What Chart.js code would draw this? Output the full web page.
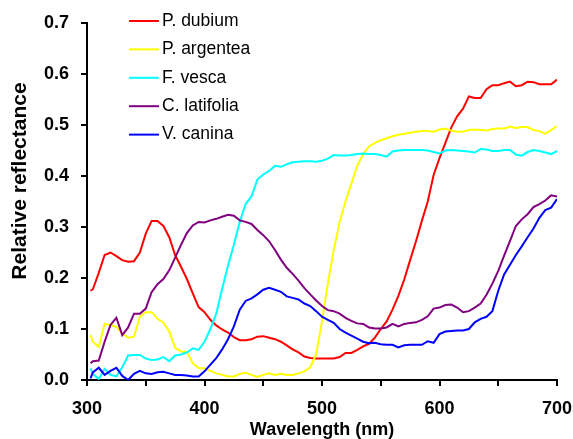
<!DOCTYPE html>
<html>
<head>
<meta charset="utf-8">
<script src="https://cdn.jsdelivr.net/npm/chart.js@4.4.1/dist/chart.umd.min.js"></script>
<style>
  html, body { margin: 0; padding: 0; background: #fff; }
  #wrap { width: 573px; height: 439px; }
</style>
</head>
<body>
<div id="wrap"><canvas id="reflChart" width="573" height="439"></canvas></div>
<script>
const wavelengths = [303, 305, 310, 315, 320, 325, 330, 335, 340, 345,
    350, 355, 360, 365, 370, 375, 380, 385, 390, 395,
    400, 405, 410, 415, 420, 425, 430, 435, 440, 445,
    450, 455, 460, 465, 470, 475, 480, 485, 490, 495,
    500, 505, 510, 515, 520, 525, 530, 535, 540, 545,
    550, 555, 560, 565, 570, 575, 580, 585, 590, 595,
    600, 605, 610, 615, 620, 625, 630, 635, 640, 645,
    650, 655, 660, 665, 670, 675, 680, 685, 690, 695,
    700];

const pDubium = [0.175, 0.178, 0.21, 0.245, 0.25, 0.243, 0.235, 0.232, 0.233, 0.25,
    0.287, 0.312, 0.312, 0.302, 0.28, 0.245, 0.222, 0.198, 0.17, 0.143,
    0.133, 0.118, 0.107, 0.099, 0.093, 0.084, 0.078, 0.078, 0.08, 0.085,
    0.086, 0.083, 0.08, 0.075, 0.068, 0.06, 0.054, 0.046, 0.043, 0.042,
    0.042, 0.042, 0.042, 0.045, 0.053, 0.053, 0.059, 0.066, 0.071, 0.083,
    0.1, 0.115, 0.138, 0.165, 0.197, 0.235, 0.272, 0.312, 0.35, 0.402,
    0.435, 0.465, 0.495, 0.517, 0.532, 0.556, 0.553, 0.553, 0.57, 0.578,
    0.578, 0.582, 0.585, 0.576, 0.578, 0.585, 0.584, 0.58, 0.58, 0.58,
    0.589];

const pArgentea = [0.088, 0.075, 0.065, 0.11, 0.108, 0.104, 0.091, 0.083, 0.085, 0.124,
    0.133, 0.133, 0.12, 0.113, 0.095, 0.063, 0.056, 0.055, 0.033, 0.023,
    0.023, 0.018, 0.013, 0.01, 0.007, 0.007, 0.012, 0.014, 0.01, 0.006,
    0.01, 0.013, 0.01, 0.012, 0.01, 0.01, 0.013, 0.017, 0.025, 0.05,
    0.115, 0.19, 0.255, 0.31, 0.35, 0.385, 0.42, 0.443, 0.458, 0.465,
    0.47, 0.474, 0.478, 0.481, 0.483, 0.485, 0.487, 0.488, 0.488, 0.487,
    0.491, 0.493, 0.489, 0.487, 0.487, 0.49, 0.491, 0.49, 0.489, 0.492,
    0.493, 0.493, 0.497, 0.494, 0.496, 0.496, 0.49, 0.488, 0.483, 0.49,
    0.498];

const fVesca = [0.023, 0.012, 0.002, 0.022, 0.01, 0.007, 0.025, 0.048, 0.049, 0.049,
    0.042, 0.039, 0.04, 0.045, 0.037, 0.048, 0.05, 0.054, 0.062, 0.059,
    0.075, 0.1, 0.13, 0.179, 0.224, 0.265, 0.31, 0.345, 0.36, 0.393,
    0.403, 0.41, 0.42, 0.418, 0.423, 0.427, 0.428, 0.429, 0.429, 0.428,
    0.43, 0.434, 0.441, 0.44, 0.44, 0.441, 0.443, 0.444, 0.443, 0.443,
    0.441, 0.438, 0.448, 0.45, 0.451, 0.451, 0.451, 0.451, 0.45, 0.447,
    0.444, 0.45, 0.451, 0.45, 0.449, 0.448, 0.446, 0.453, 0.452, 0.449,
    0.449, 0.451, 0.451, 0.442, 0.44, 0.447, 0.451, 0.449, 0.446, 0.443,
    0.449];

const cLatifolia = [0.033, 0.037, 0.038, 0.075, 0.108, 0.122, 0.088, 0.103, 0.13, 0.13,
    0.14, 0.172, 0.188, 0.198, 0.215, 0.24, 0.265, 0.288, 0.303, 0.31,
    0.309, 0.313, 0.316, 0.32, 0.324, 0.322, 0.313, 0.31, 0.306, 0.294,
    0.284, 0.272, 0.255, 0.236, 0.22, 0.208, 0.195, 0.18, 0.168, 0.156,
    0.145, 0.137, 0.135, 0.13, 0.122, 0.116, 0.111, 0.11, 0.103, 0.101,
    0.101, 0.103, 0.11, 0.105, 0.11, 0.112, 0.113, 0.118, 0.125, 0.14,
    0.142, 0.147, 0.148, 0.142, 0.133, 0.135, 0.142, 0.15, 0.167, 0.189,
    0.214, 0.244, 0.273, 0.302, 0.315, 0.325, 0.339, 0.345, 0.352, 0.362,
    0.36];

const vCanina = [0.003, 0.015, 0.024, 0.01, 0.018, 0.024, 0.008, 0.0, 0.012, 0.018,
    0.013, 0.012, 0.015, 0.016, 0.013, 0.01, 0.01, 0.009, 0.007, 0.007,
    0.017, 0.03, 0.043, 0.06, 0.08, 0.105, 0.138, 0.155, 0.16, 0.168,
    0.177, 0.181, 0.177, 0.173, 0.164, 0.161, 0.158, 0.15, 0.145, 0.135,
    0.124, 0.118, 0.112, 0.1, 0.093, 0.087, 0.081, 0.075, 0.072, 0.073,
    0.07, 0.069, 0.069, 0.064, 0.068, 0.069, 0.069, 0.069, 0.076, 0.073,
    0.09, 0.095, 0.096, 0.097, 0.097, 0.1, 0.113, 0.12, 0.124, 0.135,
    0.175, 0.207, 0.226, 0.245, 0.262, 0.28, 0.297, 0.318, 0.333, 0.338,
    0.355];

const seriesNames = ['P. dubium', 'P. argentea', 'F. vesca', 'C. latifolia', 'V. canina'];
const seriesValues = [pDubium, pArgentea, fVesca, cLatifolia, vCanina];
const seriesColors = ['#ff0000', '#ffff00', '#00ffff', '#800080', '#0000ff'];

const FONT = '"Liberation Sans", Arial, sans-serif';

// legend inside the plot (top left) and the y title, which sits above centre in the original
const extras = {
    id: 'extras',
    afterDraw(chart) {
        const c = chart.ctx;
        c.save();
        c.font = '17.5px ' + FONT;
        c.textBaseline = 'middle';
        c.lineWidth = 2;
        chart.data.datasets.forEach((ds, i) => {
            const y = 21 + i * 28.4;
            c.strokeStyle = ds.borderColor;
            c.beginPath();
            c.moveTo(129, y);
            c.lineTo(159, y);
            c.stroke();
            c.fillStyle = '#000';
            c.fillText(ds.label, 162, y);
        });
        c.translate(20, 181);
        c.rotate(-Math.PI / 2);
        c.textAlign = 'center';
        c.font = 'bold 21px ' + FONT;
        c.fillText('Relative reflectance', 0, 0);
        c.restore();
    }
};

new Chart(document.getElementById('reflChart'), {
    type: 'line',
    data: {
        datasets: seriesNames.map((name, i) => ({
            label: name,
            data: wavelengths.map((w, j) => ({ x: w, y: seriesValues[i][j] })),
            borderColor: seriesColors[i],
            backgroundColor: seriesColors[i],
            borderWidth: 2,
            pointRadius: 0,
            tension: 0,
            order: 5 - i
        }))
    },
    options: {
        responsive: false,
        animation: false,
        layout: { padding: { top: 23, right: 4, left: 0, bottom: 0 } },
        plugins: {
            legend: { display: false },
            tooltip: { enabled: false }
        },
        scales: {
            x: {
                type: 'linear',
                min: 300,
                max: 700,
                afterFit: s => { s.height = 59; s.paddingRight = 16; },
                ticks: {
                    stepSize: 50,
                    autoSkip: false,
                    maxRotation: 0,
                    color: '#000',
                    padding: 12,
                    font: { family: FONT, size: 18, weight: 'bold' },
                    callback: v => (v % 100 === 0 ? v : '')
                },
                grid: { drawOnChartArea: false, drawTicks: true, tickLength: 6, color: '#000', lineWidth: 2 },
                border: { color: '#000', width: 2 },
                title: {
                    display: true,
                    text: 'Wavelength (nm)',
                    color: '#000',
                    padding: { top: 0, bottom: 0 },
                    font: { family: FONT, size: 18, weight: 'bold', lineHeight: 1 }
                }
            },
            y: {
                min: 0,
                max: 0.7,
                afterFit: s => { s.width = 87; },
                ticks: {
                    stepSize: 0.1,
                    color: '#000',
                    padding: 12,
                    font: { family: FONT, size: 18, weight: 'bold' },
                    callback: v => v.toFixed(1)
                },
                grid: { drawOnChartArea: false, drawTicks: true, tickLength: 6, color: '#000', lineWidth: 2 },
                border: { color: '#000', width: 2 }
            }
        }
    },
    plugins: [extras]
});
</script>
</body>
</html>
